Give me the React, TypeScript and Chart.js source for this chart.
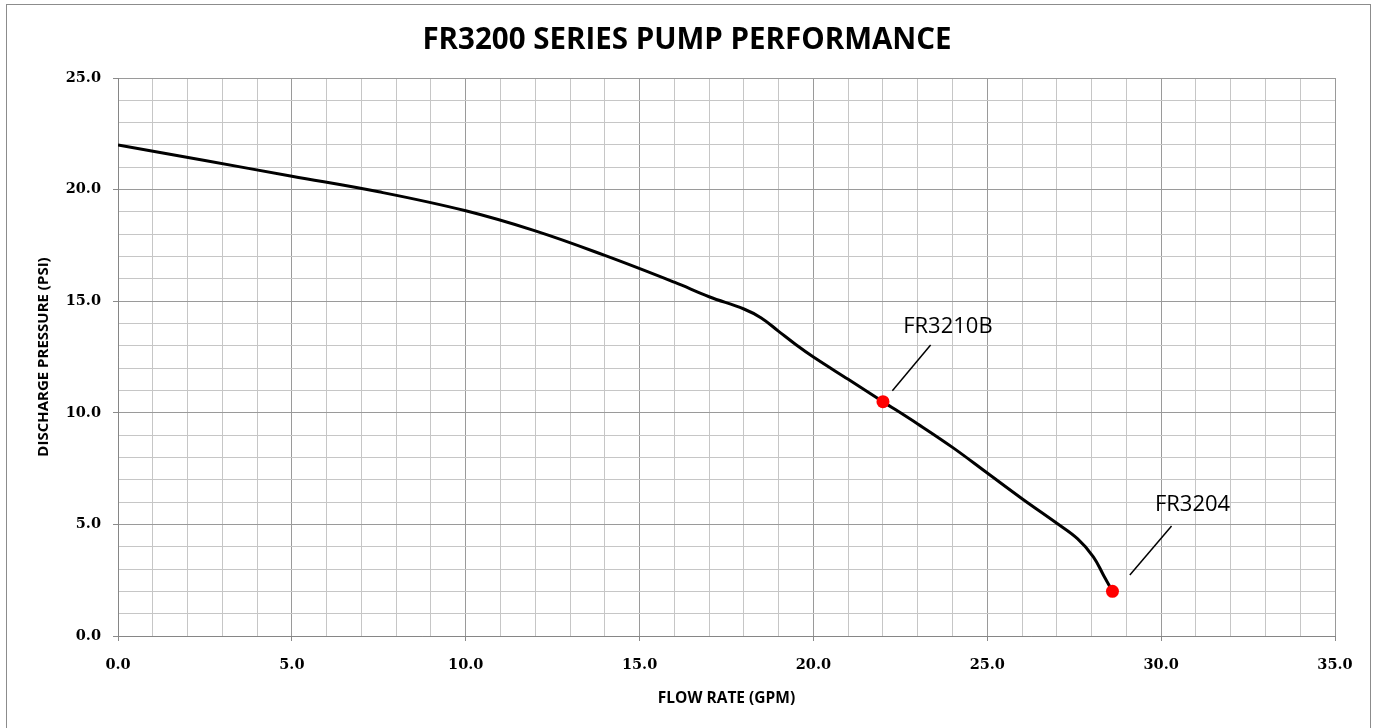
import React, { useEffect, useRef } from 'react';
import { Chart, registerables } from 'chart.js';

Chart.register(...registerables);

// Pump curve (flow in GPM, pressure in PSI)
const flowRate = [0, 2.5, 5, 7.5, 10, 12, 14, 16, 17, 18, 18.5, 19, 19.5, 20, 21, 22, 23, 24, 25, 26, 27, 27.6, 28.05, 28.35, 28.6];
const pressure = [22.0, 21.3, 20.6, 19.9, 19.05, 18.15, 17.05, 15.85, 15.2, 14.65, 14.25, 13.65, 13.05, 12.5, 11.5, 10.5, 9.5, 8.45, 7.3, 6.15, 5.05, 4.35, 3.55, 2.7, 2.0];

// Model operating points
const modelNames = ['FR3210B', 'FR3204'];
const modelFlow = [22.0, 28.6];
const modelPressure = [10.5, 2.0];

// Axis ranges
const xMax = 35;
const yMax = 25;
const majorStep = 5;

const chartTitle = 'FR3200 SERIES PUMP PERFORMANCE';
const xTitle = 'FLOW RATE (GPM)';
const yTitle = 'DISCHARGE PRESSURE (PSI)';

// Annotation placement in data units: label (x, baseline y), leader line from -> to
const annotationLayout = [
  { label: [22.58, 13.57], from: [23.37, 13.04], to: [22.27, 10.99] },
  { label: [29.82, 5.6], from: [30.3, 4.93], to: [29.1, 2.73] },
];

const overlayPlugin = {
  id: 'overlay',
  beforeDraw(chart: any) {
    const { ctx, width, height } = chart;
    ctx.save();
    ctx.fillStyle = '#ffffff';
    ctx.fillRect(0, 0, width, height);
    ctx.strokeStyle = '#8c8c8c';
    ctx.lineWidth = 1;
    ctx.strokeRect(6.5, 4.5, width - 13, height + 10);
    ctx.restore();
  },
  afterDraw(chart: any) {
    const { ctx, chartArea, scales } = chart;
    const xs = scales.x;
    const ys = scales.y;
    ctx.save();
    // title
    ctx.fillStyle = '#000';
    ctx.textAlign = 'center';
    ctx.textBaseline = 'alphabetic';
    ctx.font = 'bold 29.5px "Open Sans", sans-serif';
    ctx.fillText(chartTitle, 687, 49);
    // axis titles
    ctx.font = 'bold 15.5px "Open Sans", sans-serif';
    ctx.textBaseline = 'middle';
    ctx.fillText(xTitle, (chartArea.left + chartArea.right) / 2, 699);
    ctx.save();
    ctx.translate(44, (chartArea.top + chartArea.bottom) / 2);
    ctx.rotate(-Math.PI / 2);
    ctx.font = 'bold 15px "Open Sans", sans-serif';
    ctx.fillText(yTitle, 0, 0);
    ctx.restore();
    // annotations
    ctx.font = '22px "Open Sans", sans-serif';
    ctx.textAlign = 'left';
    ctx.textBaseline = 'alphabetic';
    ctx.strokeStyle = '#000';
    ctx.lineWidth = 1.5;
    annotationLayout.forEach((a, i) => {
      ctx.fillText(modelNames[i], xs.getPixelForValue(a.label[0]), ys.getPixelForValue(a.label[1]));
      ctx.beginPath();
      ctx.moveTo(xs.getPixelForValue(a.from[0]), ys.getPixelForValue(a.from[1]));
      ctx.lineTo(xs.getPixelForValue(a.to[0]), ys.getPixelForValue(a.to[1]));
      ctx.stroke();
    });
    ctx.restore();
  },
};

const isMajor = (v: number) => Math.abs(v / majorStep - Math.round(v / majorStep)) < 1e-6;

export default function App() {
  const canvasRef = useRef<HTMLCanvasElement | null>(null);

  useEffect(() => {
    document.body.style.margin = '0';
    document.body.style.overflow = 'hidden';
    const canvas = canvasRef.current;
    if (!canvas) return;
    const curve = flowRate.map((x, i) => ({ x, y: pressure[i] }));
    const points = modelFlow.map((x, i) => ({ x, y: modelPressure[i] }));
    const tickFont = { family: '"DejaVu Serif", serif', size: 14.5, weight: 'bold' as const };
    const chart = new Chart(canvas, {
      type: 'scatter',
      data: {
        datasets: [
          {
            label: 'Models',
            data: points,
            pointRadius: 6.5,
            pointBackgroundColor: '#ff0000',
            pointBorderColor: '#ff0000',
            pointBorderWidth: 0,
            showLine: false,
            order: 0,
          },
          {
            label: 'Curve',
            data: curve,
            showLine: true,
            borderColor: '#000000',
            borderWidth: 3,
            pointRadius: 0,
            tension: 0.4,
            fill: false,
            order: 1,
          },
        ],
      },
      options: {
        animation: false,
        responsive: false,
        maintainAspectRatio: false,
        layout: { padding: { top: 78, right: 42, left: 0, bottom: 0 } },
        plugins: {
          legend: { display: false },
          tooltip: { enabled: false },
          title: { display: false },
        },
        scales: {
          x: {
            type: 'linear',
            min: 0,
            max: xMax,
            afterFit: (s: any) => {
              s.height = 92;
            },
            afterBuildTicks: (s: any) => {
              const t = [];
              for (let v = 0; v <= xMax; v++) t.push({ value: v });
              s.ticks = t;
            },
            ticks: {
              autoSkip: false,
              maxRotation: 0,
              padding: 16,
              color: '#000',
              font: tickFont,
              callback: (v: any) => (isMajor(Number(v)) ? Number(v).toFixed(1) : ''),
            },
            grid: {
              color: (c: any) => (isMajor(c.tick?.value ?? 0) ? '#9a9a9a' : '#c6c6c6'),
              tickColor: (c: any) => (isMajor(c.tick?.value ?? 0) ? '#8a8a8a' : 'rgba(0,0,0,0)'),
              tickLength: 5,
              lineWidth: 1,
            },
            border: { color: '#868686', width: 1 },
          },
          y: {
            type: 'linear',
            min: 0,
            max: yMax,
            afterFit: (s: any) => {
              s.width = 118;
            },
            afterBuildTicks: (s: any) => {
              const t = [];
              for (let v = 0; v <= yMax; v++) t.push({ value: v });
              s.ticks = t;
            },
            ticks: {
              autoSkip: false,
              padding: 12,
              color: '#000',
              font: tickFont,
              callback: (v: any) => (isMajor(Number(v)) ? Number(v).toFixed(1) : ''),
            },
            grid: {
              color: (c: any) => (isMajor(c.tick?.value ?? 0) ? '#9a9a9a' : '#c6c6c6'),
              tickColor: (c: any) => (isMajor(c.tick?.value ?? 0) ? '#8a8a8a' : 'rgba(0,0,0,0)'),
              tickLength: 5,
              lineWidth: 1,
            },
            border: { color: '#868686', width: 1 },
          },
        },
      },
      plugins: [overlayPlugin],
    });
    return () => chart.destroy();
  }, []);

  return (
    <div style={{ width: 1377, height: 728, position: 'relative' }}>
      <canvas ref={canvasRef} width={1377} height={728} style={{ display: 'block' }} />
    </div>
  );
}
